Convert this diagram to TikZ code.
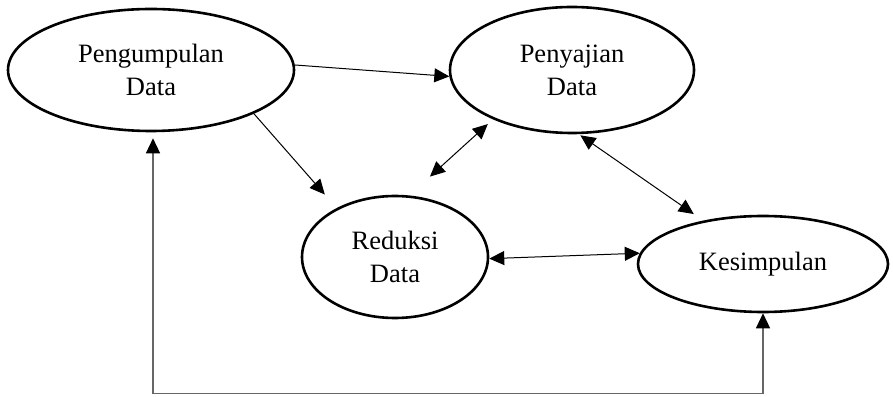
\documentclass[tikz,border=0pt]{standalone}
\usepackage{fontspec}
\setmainfont{Liberation Serif}
\usetikzlibrary{arrows.meta,shapes.geometric}
\begin{document}
\begin{tikzpicture}[x=1pt,y=1pt,
  bubble/.style={ellipse, draw, line width=2.6pt, inner sep=0pt, align=center,
    font=\fontsize{26.5}{33}\selectfont, fill=white},
  link/.style={line width=1pt, -{Triangle[length=15pt,width=14pt]}},
  dlink/.style={line width=1pt, {Triangle[length=15pt,width=14pt]}-{Triangle[length=15pt,width=14pt]}},
  framing/.style={line width=1.4pt, draw=black!60,
    {Triangle[length=15pt,width=14pt,color=black]}-{Triangle[length=15pt,width=14pt,color=black]}},
]
\useasboundingbox (0,0) rectangle (893,396);

\node[bubble, minimum width=286pt, minimum height=122pt] (P) at (151,326) {Pengumpulan\\Data};
\node[bubble, minimum width=244pt, minimum height=126pt] (S) at (572,326) {Penyajian\\Data};
\node[bubble, minimum width=186pt, minimum height=122pt] (R) at (395,139) {Reduksi\\Data};
\node[bubble, minimum width=250pt, minimum height=96pt] (K) at (763,132) {Kesimpulan};

\coordinate (c1) at (763,2.5);
\coordinate (c2) at (153,2.5);

\draw[link] (P.2) -- (S.183);
\draw[link, shorten >=18pt] (P.-23) -- (R.140.6);
\draw[dlink, shorten <=7pt, shorten >=28pt] (S.212) -- (R.77.8);
\draw[dlink, shorten <=2pt, shorten >=11.5pt] (S.-84.3) -- (K.144.1);
\draw[dlink] (R.-1.8) -- (K.175.5);
\draw[framing, shorten <=6pt] (P.south -| c2) -- (c2) -- (c1) -- (K.south);
\end{tikzpicture}
\end{document}
